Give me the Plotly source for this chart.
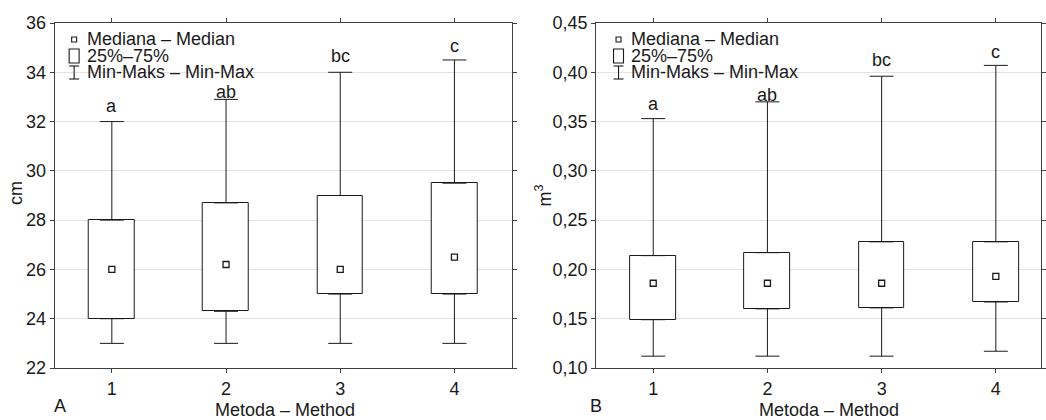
import plotly.graph_objects as go

# ---------------- data ----------------
methods = [1, 2, 3, 4]
method_labels = ["1", "2", "3", "4"]

# Panel A (cm)
a_min = [23.0, 23.0, 23.0, 23.0]
a_q1 = [24.0, 24.3, 25.0, 25.0]
a_med = [26.0, 26.2, 26.0, 26.5]
a_q3 = [28.0, 28.7, 29.0, 29.5]
a_max = [32.0, 32.9, 34.0, 34.5]
a_letters = ["a", "ab", "bc", "c"]
a_letter_y = [32.62, 33.2, 34.66, 35.06]

# Panel B (m3)
b_min = [0.112, 0.112, 0.112, 0.117]
b_q1 = [0.149, 0.160, 0.161, 0.167]
b_med = [0.186, 0.186, 0.186, 0.193]
b_q3 = [0.214, 0.217, 0.228, 0.228]
b_max = [0.353, 0.370, 0.396, 0.407]
b_letters = ["a", "ab", "bc", "c"]
b_letter_y = [0.368, 0.377, 0.412, 0.421]

legend_items = ["Mediana – Median", "25%–75%", "Min-Maks – Min-Max"]
x_title = "Metoda – Method"

FONT = "Liberation Sans, Arial, sans-serif"
INK = "#1a1a1a"
GRID = "#e3e3e3"
AXIS = "#404040"

W, H = 1046, 420
PLOT_TOP, PLOT_BOT = 23, 368
PLOT_H = PLOT_BOT - PLOT_TOP
fig = go.Figure()


def add_panel(xa, ya, mn, q1, med, q3, mx):
    xref = "x" if xa == 1 else f"x{xa}"
    yref = "y" if ya == 1 else f"y{ya}"
    # box 25%-75%
    fig.add_trace(go.Bar(
        x=methods, y=[b - a for a, b in zip(q1, q3)], base=q1, width=0.4,
        marker=dict(color="white", line=dict(color=INK, width=1)),
        xaxis=xref, yaxis=yref, showlegend=False, hoverinfo="skip"))
    # upper whisker
    fig.add_trace(go.Scatter(
        x=methods, y=q3, mode="markers", marker=dict(size=1, opacity=0),
        error_y=dict(type="data", symmetric=False,
                     array=[b - a for a, b in zip(q3, mx)],
                     arrayminus=[0] * len(methods),
                     width=12, thickness=1, color=INK),
        xaxis=xref, yaxis=yref, showlegend=False, hoverinfo="skip"))
    # lower whisker
    fig.add_trace(go.Scatter(
        x=methods, y=q1, mode="markers", marker=dict(size=1, opacity=0),
        error_y=dict(type="data", symmetric=False,
                     array=[0] * len(methods),
                     arrayminus=[a - b for a, b in zip(q1, mn)],
                     width=12, thickness=1, color=INK),
        xaxis=xref, yaxis=yref, showlegend=False, hoverinfo="skip"))
    # median
    fig.add_trace(go.Scatter(
        x=methods, y=med, mode="markers",
        marker=dict(symbol="square", size=6, color="white",
                    line=dict(color=INK, width=1.3)),
        xaxis=xref, yaxis=yref, showlegend=False, hoverinfo="skip"))


add_panel(1, 1, a_min, a_q1, a_med, a_q3, a_max)
add_panel(2, 2, b_min, b_q1, b_med, b_q3, b_max)

axis_common = dict(
    showline=True, linecolor=AXIS, linewidth=1.2, mirror="allticks",
    ticks="outside", ticklen=4, tickcolor=AXIS, tickwidth=1,
    tickfont=dict(family=FONT, size=18, color=INK),
    zeroline=False,
)

left_l, left_r = 55, 514
right_l = 599

fig.update_layout(
    width=W, height=H,
    margin=dict(l=0, r=0, t=PLOT_TOP, b=H - PLOT_BOT),
    paper_bgcolor="white", plot_bgcolor="white",
    separators=", ",
    font=dict(family=FONT, size=18, color=INK),
    xaxis=dict(domain=[left_l / W, left_r / W], range=[0.5, 4.5],
               tickvals=methods, ticktext=method_labels, showgrid=False,
               anchor="y", **axis_common),
    yaxis=dict(range=[22, 36], dtick=2, tick0=22, showgrid=True,
               gridcolor=GRID, gridwidth=1, anchor="x", **axis_common),
    xaxis2=dict(domain=[right_l / W, 1.0], range=[0.5, 0.5 + (W - right_l) / 114.75],
                tickvals=methods, ticktext=method_labels, showgrid=False,
                anchor="y2", **axis_common),
    yaxis2=dict(range=[0.10, 0.45], dtick=0.05, tick0=0.10, tickformat=".2f",
                showgrid=True, gridcolor=GRID, gridwidth=1, anchor="x2",
                **axis_common),
    bargap=0,
)


def px_x(p):
    return p / W


def px_y(p):
    return (PLOT_BOT - p) / PLOT_H


annotations = []
shapes = []
tfont = dict(family=FONT, size=18, color=INK)

# letters over the whiskers
for xr, yr, letters, ly in (("x", "y", a_letters, a_letter_y),
                            ("x2", "y2", b_letters, b_letter_y)):
    for m, t, yv in zip(methods, letters, ly):
        annotations.append(dict(x=m, y=yv, xref=xr, yref=yr, text=t,
                                showarrow=False, xanchor="center", yanchor="middle",
                                font=tfont))

# custom legends inside each panel
legend_text_y = [38.5, 56, 72]
for sx, tx in ((74.5, 85), (621.5, 632)):
    for txt, ty in zip(legend_items, legend_text_y):
        annotations.append(dict(x=px_x(tx), y=px_y(ty), xref="paper", yref="paper",
                                text=txt, showarrow=False, xanchor="left",
                                yanchor="middle", font=tfont))
    lw = dict(color=INK, width=1.1)
    shapes.append(dict(type="rect", xref="paper", yref="paper",
                       x0=px_x(sx - 2.5), x1=px_x(sx + 2.5),
                       y0=px_y(37), y1=px_y(42), line=lw, fillcolor="white"))
    shapes.append(dict(type="rect", xref="paper", yref="paper",
                       x0=px_x(sx - 5), x1=px_x(sx + 5),
                       y0=px_y(49), y1=px_y(63), line=lw, fillcolor="white"))
    shapes.append(dict(type="line", xref="paper", yref="paper",
                       x0=px_x(sx), x1=px_x(sx), y0=px_y(66), y1=px_y(79), line=lw))
    shapes.append(dict(type="line", xref="paper", yref="paper",
                       x0=px_x(sx - 5), x1=px_x(sx + 5), y0=px_y(66), y1=px_y(66), line=lw))
    shapes.append(dict(type="line", xref="paper", yref="paper",
                       x0=px_x(sx - 5), x1=px_x(sx + 5), y0=px_y(79), y1=px_y(79), line=lw))

annotations += [
    dict(x=px_x(16), y=px_y(193), text="cm", textangle=-90),
    dict(x=px_x(546), y=px_y(195), text="m<sup>3</sup>", textangle=-90),
    dict(x=px_x(286), y=px_y(410), text=x_title),
    dict(x=px_x(833), y=px_y(410), text=x_title),
    dict(x=px_x(52), y=px_y(406), text="A", xanchor="left"),
    dict(x=px_x(591), y=px_y(406), text="B", xanchor="left"),
]
for a in annotations[-6:]:
    a.setdefault("xanchor", "center")
    a.update(xref="paper", yref="paper", showarrow=False, yanchor="middle", font=tfont)

fig.update_layout(annotations=annotations, shapes=shapes)
fig.write_html("out.html", post_script="document.body.style.margin='0';",
               config={"displayModeBar": False})
